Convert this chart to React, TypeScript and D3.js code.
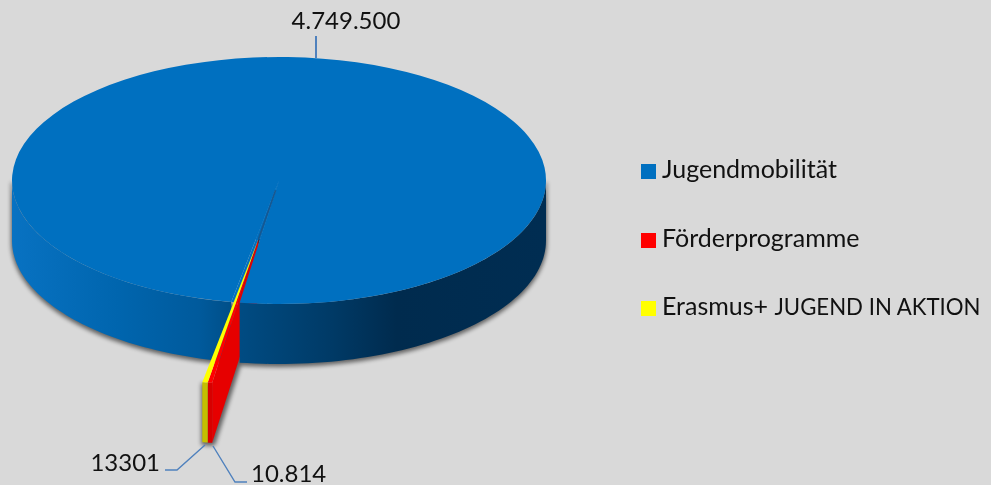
import React from "react";
import * as d3 from "d3";

const categories = ["Jugendmobilität", "Förderprogramme", "Erasmus+ "];
const categoryCaps = ["", "", "JUGEND IN AKTION"];
const values = [4749500, 10814, 13301];
const valueLabels = ["4.749.500", "10.814", "13301"];
const colors = ["#0070c0", "#ff0000", "#ffff00"];
const wallStops: [number, string][] = [
  [0, "#0872c2"],
  [0.2, "#0065ae"],
  [0.35, "#005a9c"],
  [0.43, "#004b82"],
  [0.6, "#003a66"],
  [0.72, "#002b4e"],
  [1, "#002d52"],
];

const W = 991, H = 485;
const cx = 279, cy = 180.5, rx = 267, ry = 123.5, depth = 60;
const deg = Math.PI / 180;
const font = "Lato, 'Open Sans', sans-serif";

// explode settings of the two pulled-out slices
const explode = 0.483;
const sliceScale = 1.175;

export default function App() {
  const pie = d3.pie<number>().sort(null).startAngle(-169.7 * deg).endAngle(190.3 * deg);
  const [blue, red, yellow] = pie(values);
  const midAngle = 189.2 * deg;

  const pt = (a: number, r = 1, dy = 0, ox = 0, oy = 0): [number, number] => [
    cx + ox + rx * r * Math.sin(a),
    cy + oy + dy - ry * r * Math.cos(a),
  ];
  const line = d3.line<[number, number]>();

  const tipX = rx * explode * Math.sin(midAngle);
  const tipY = -ry * explode * Math.cos(midAngle);
  const tip = pt(0, 0, 0, tipX, tipY);

  const wall = (a0: number, a1: number) => {
    const top = d3.range(0, 61).map((i) => pt(a0 + ((a1 - a0) * i) / 60));
    const bot = top.map(([x, y]) => [x, y + depth] as [number, number]).reverse();
    return line([...top, ...bot]) + "Z";
  };

  const sector = d3.arc<any>().innerRadius(0).outerRadius(rx);

  const outerPts = (a0: number, a1: number) =>
    d3.range(0, 7).map((i) => pt(a0 + ((a1 - a0) * i) / 6, sliceScale, 0, tipX, tipY));
  const sliverTop = (a0: number, a1: number) => line([tip, ...outerPts(a0, a1)]) + "Z";
  const sliverOuter = (a0: number, a1: number) => {
    const o = outerPts(a0, a1);
    const b = o.map(([x, y]) => [x, y + depth] as [number, number]).reverse();
    return line([...o, ...b]) + "Z";
  };
  const sliverSide = (a: number) => {
    const o = pt(a, sliceScale, 0, tipX, tipY);
    return line([tip, o, [o[0], o[1] + depth], [tip[0], tip[1] + depth]]) + "Z";
  };

  const legendBase = [178, 247, 315];
  const discTransform = `translate(${cx},${cy}) scale(1,${ry / rx})`;

  return (
    <svg
      width={W}
      height={H}
      viewBox={`0 0 ${W} ${H}`}
      style={{ position: "absolute", left: 0, top: 0, background: "#d9d9d9" }}
    >
      <defs>
        <linearGradient id="wallGrad" gradientUnits="userSpaceOnUse" x1={cx - rx} x2={cx + rx} y1={0} y2={0}>
          {wallStops.map(([o, c]) => (
            <stop key={o} offset={o} stopColor={c} />
          ))}
        </linearGradient>
        <filter id="blur" x="-10%" y="-10%" width="120%" height="120%">
          <feGaussianBlur stdDeviation="2.2" />
        </filter>
        <filter id="soft" x="-50%" y="-50%" width="200%" height="200%">
          <feGaussianBlur stdDeviation="0.6" />
        </filter>
      </defs>

      {/* soft shadow */}
      <g filter="url(#blur)" fill="#000" stroke="#000" strokeWidth={2} opacity={0.55}>
        <path d={wall(90 * deg, 270 * deg)} transform="translate(0,2)" />
        <path d={sliverOuter(red.startAngle, yellow.endAngle)} transform="translate(0,2)" />
        <path d={sliverSide(red.startAngle)} transform="translate(2,2)" />
      </g>

      {/* left part of the side wall */}
      <path d={wall(270 * deg, yellow.endAngle)} fill="url(#wallGrad)" />

      {/* gap in the disc: dark on the side of the red slice, blue beside the yellow one */}
      <path
        d={sector({ startAngle: red.startAngle, endAngle: red.endAngle })!}
        transform={discTransform}
        fill="#00365e"
      />
      <path
        d={sector({ startAngle: yellow.startAngle, endAngle: yellow.endAngle })!}
        transform={discTransform}
        fill={colors[0]}
      />

      {/* pulled-out slices */}
      <path d={sliverSide(red.startAngle)} fill="#e60000" />
      <path d={sliverOuter(red.startAngle, red.endAngle)} fill="#d80000" />
      <path d={sliverOuter(yellow.startAngle, yellow.endAngle)} fill="#c4c000" />
      <path d={sliverTop(red.startAngle, red.endAngle)} fill={colors[1]} />
      <path d={sliverTop(yellow.startAngle, yellow.endAngle)} fill={colors[2]} />

      {/* right part of the side wall and the top of the disc */}
      <path d={wall(90 * deg, red.startAngle)} fill="url(#wallGrad)" />
      <path d={sector(blue)!} transform={discTransform} fill={colors[0]} />

      {/* the closed seam from the centre to the tip of the slices */}
      <path
        d={line([pt(0, 0), pt(red.startAngle, explode - 0.002), pt(yellow.endAngle, explode - 0.002)]) + "Z"}
        fill={colors[0]}
        stroke={colors[0]}
        strokeWidth={0.5}
      />
      <path
        d={line([pt(midAngle, 0.08), tip]) as string}
        fill="none"
        stroke="#1b5388"
        strokeWidth={1.6}
        opacity={0.85}
        filter="url(#soft)"
      />

      {/* leader lines */}
      <g fill="none" stroke="#4f81bd" strokeWidth={1.4}>
        <path d="M316,36V58" strokeWidth={2} />
        <path d="M165,470H177L205,445" />
        <path d="M213,446L235,482H247" />
      </g>

      {/* data labels */}
      <g fontFamily={font} fontSize={24} fill="#111">
        <text x={346} y={29} textAnchor="middle">{valueLabels[0]}</text>
        <text x={251} y={482}>{valueLabels[1]}</text>
        <text x={160} y={471} textAnchor="end">{valueLabels[2]}</text>
      </g>

      {/* legend */}
      <g fontFamily={font} fontSize={25} fill="#111">
        {categories.map((c, i) => (
          <g key={c}>
            <rect x={641} y={legendBase[i] - 14} width={15} height={15} fill={colors[i]} />
            <text x={662} y={legendBase[i]} xmlSpace="preserve">
              {c}
              {categoryCaps[i] ? <tspan fontSize={22.2}>{categoryCaps[i]}</tspan> : null}
            </text>
          </g>
        ))}
      </g>
    </svg>
  );
}
